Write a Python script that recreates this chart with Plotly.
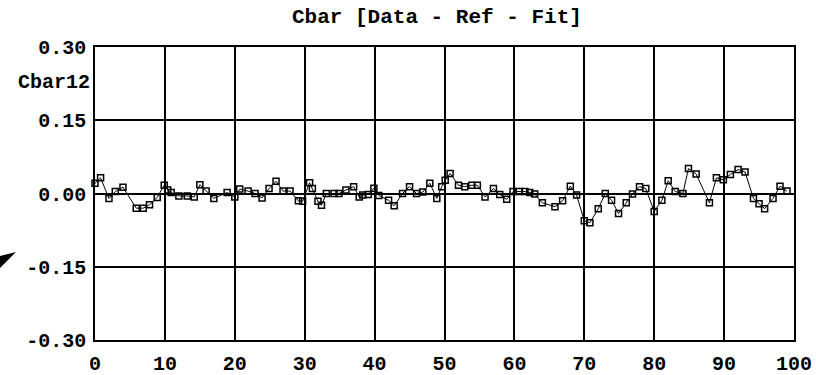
import plotly.graph_objects as go

# Data (x position, residual value)
x_vals = [-0.8, 0, 0.8, 2.0, 2.9, 4.0, 5.9, 6.9, 7.8, 8.9, 9.9, 10.4, 10.9, 12, 13.2, 14.2, 15, 15.9, 17, 18.9, 20,
          20.7, 21.9, 22.9, 23.9, 24.9, 25.9, 26.9, 27.9, 29.1, 29.7, 30.7, 31.1, 31.9, 32.4, 33.1, 34.2, 34.9, 35.9,
          37, 37.8, 38.3, 39.1, 39.9, 40.6, 42, 42.8, 44, 45, 46, 46.9, 47.9, 48.9, 49.6, 50.1, 50.8, 52, 52.9, 53.9,
          54.7, 55.8, 57, 57.9, 58.9, 59.8, 60.7, 61.5, 62.2, 62.9, 64, 65.8, 66.9, 68, 68.9, 70, 70.8, 72, 73, 73.9,
          74.9, 76, 76.9, 77.9, 78.8, 80, 81.1, 82, 83, 84.1, 84.9, 86, 87.9, 88.9, 89.9, 90.9, 92, 93, 94.2, 95,
          95.8, 97, 98, 99]
y_vals = [0.007, 0.021, 0.032, -0.010, 0.004, 0.013, -0.030, -0.030, -0.023, -0.008, 0.017, 0.007, 0.002, -0.005,
          -0.005, -0.007, 0.018, 0.005, -0.010, 0.002, -0.007,
          0.009, 0.005, 0.000, -0.009, 0.010, 0.025, 0.005, 0.005, -0.015, -0.016, 0.022, 0.010, -0.016, -0.024,
          0.000, 0.000, 0.000, 0.007,
          0.014, -0.007, -0.003, -0.002, 0.011, -0.004, -0.014, -0.025, 0.000, 0.014, 0.000, 0.003, 0.021, -0.010,
          0.014, 0.027, 0.041, 0.017, 0.014, 0.017,
          0.017, -0.007, 0.010, -0.002, -0.012, 0.004, 0.004, 0.004, 0.002, -0.001, -0.019, -0.027, -0.015, 0.015,
          -0.003, -0.056, -0.060, -0.031, 0.000, -0.014,
          -0.041, -0.019, -0.001, 0.014, 0.010, -0.037, -0.014, 0.026, 0.004, 0.000, 0.051, 0.040, -0.019, 0.032,
          0.028, 0.039, 0.049, 0.044, -0.010, -0.021,
          -0.031, -0.010, 0.015, 0.005]

x_ticks = [0, 10, 20, 30, 40, 50, 60, 70, 80, 90, 100]
y_ticks = [-0.30, -0.15, 0.00, 0.15, 0.30]
y_tick_text = ["-0.30", "-0.15", "0.00", "0.15", "0.30"]

title_text = "Cbar [Data - Ref - Fit]"
y_label = "Cbar12"

FONT = "Liberation Mono"
L, R, T, B = 95, 22, 47, 35
W, H = 816, 375
PW, PH = W - L - R, H - T - B

fig = go.Figure()
fig.add_trace(go.Scatter(
    x=x_vals, y=y_vals, mode="lines+markers",
    line=dict(color="black", width=1),
    marker=dict(symbol="square-open", size=6, color="black", line=dict(width=1.5, color="black")),
    cliponaxis=False, showlegend=False,
))

fig.update_layout(
    width=W, height=H,
    margin=dict(l=L, r=R, t=T, b=B, autoexpand=False),
    paper_bgcolor="white", plot_bgcolor="white",
    font=dict(family=FONT, size=20, color="black"),
    xaxis=dict(range=[0, 100], tickvals=x_ticks, ticktext=[str(v) for v in x_ticks],
               showgrid=True, gridcolor="black", gridwidth=1.5, automargin=False,
               showline=True, linecolor="black", linewidth=1.5, mirror=True,
               zeroline=False, ticks="", ticklabelstandoff=4,
               tickfont=dict(family=FONT, size=20, color="black", weight="bold")),
    yaxis=dict(range=[-0.30, 0.30], tickvals=y_ticks, ticktext=y_tick_text,
               showgrid=True, gridcolor="black", gridwidth=1.5, automargin=False,
               showline=True, linecolor="black", linewidth=1.5, mirror=True,
               zeroline=True, zerolinecolor="black", zerolinewidth=2,
               ticks="", ticklabelstandoff=3,
               tickfont=dict(family=FONT, size=20, color="black", weight="bold")),
)

fig.add_annotation(text=title_text, xref="paper", yref="paper",
                   x=(437 - L) / PW, y=(H - B - 17) / PH, xanchor="center", yanchor="middle",
                   showarrow=False, font=dict(family=FONT, size=21, color="black", weight="bold"))
fig.add_annotation(text=y_label, xref="paper", yref="paper",
                   x=0, xshift=-3, y=(H - B - 82) / PH, xanchor="right", yanchor="middle",
                   showarrow=False, font=dict(family=FONT, size=20, color="black", weight="bold"))

def px(xp):
    return (xp - L) / PW

def py(yp):
    return (H - B - yp) / PH

fig.add_shape(type="path", xref="paper", yref="paper",
              path=f"M {px(16)} {py(252)} L {px(0)} {py(256)} L {px(0)} {py(268)} Z",
              fillcolor="black", line=dict(color="black", width=0))

fig.write_html("out.html")
